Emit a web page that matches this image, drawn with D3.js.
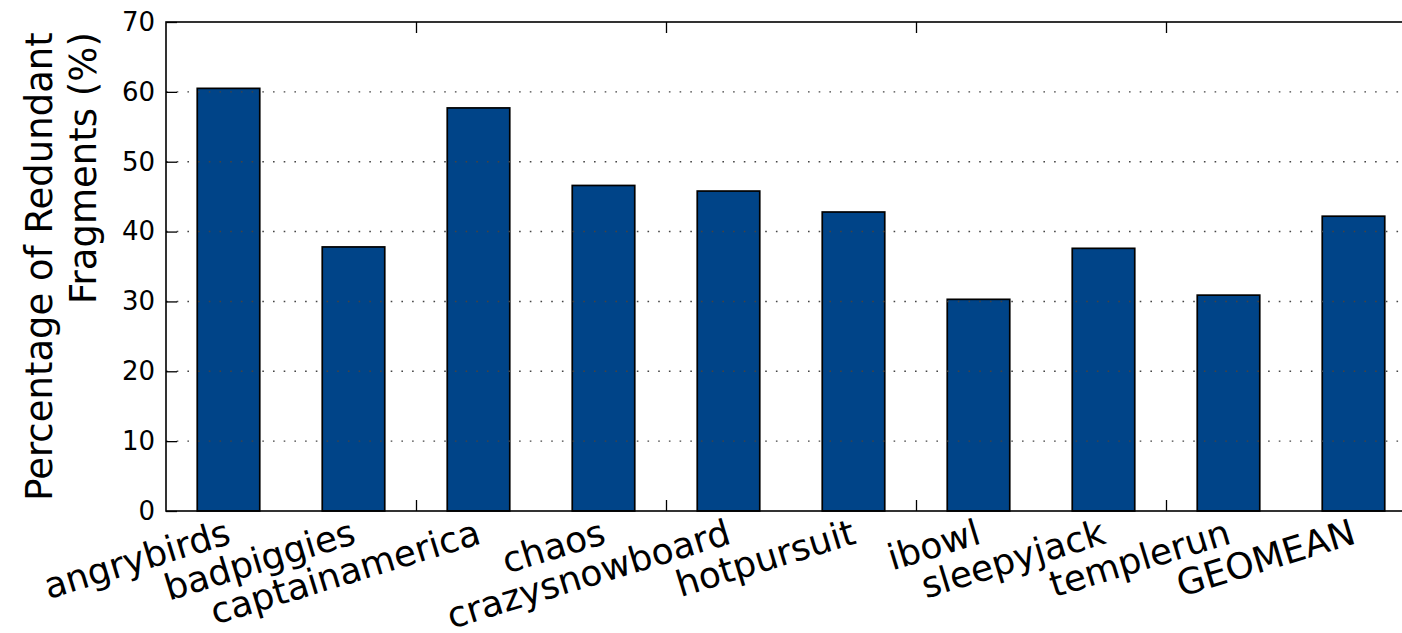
<!DOCTYPE html>
<html><head><meta charset="utf-8">
<script src="https://cdn.jsdelivr.net/npm/d3@7"></script>
<style>
html,body{margin:0;padding:0;background:#fff;}
svg{display:block;font-family:"DejaVu Sans",sans-serif;}
</style></head>
<body>
<svg id="chart" width="1402" height="633"></svg>
<script>
const categories = ["angrybirds","badpiggies","captainamerica","chaos","crazysnowboard","hotpursuit","ibowl","sleepyjack","templerun","GEOMEAN"];
const values = [60.5, 37.8, 57.7, 46.6, 45.8, 42.8, 30.3, 37.6, 30.9, 42.2];
const yTicks = [0,10,20,30,40,50,60,70];
const xMinorTicks = [2,4,6,8];
const yLabelLines = ["Percentage of Redundant","Fragments (%)"];

const svg = d3.select("#chart");
const L = 166, R = 1416, T = 22, B = 511;
const x = d3.scaleLinear().domain([0,10]).range([L,R]);
const y = d3.scaleLinear().domain([0,70]).range([B,T]);

// bars
svg.append("g").selectAll("rect").data(values).join("rect")
  .attr("x", (d,i)=>x(i+0.25))
  .attr("width", x(0.5)-x(0))
  .attr("y", d=>y(d))
  .attr("height", d=>y(0)-y(d))
  .attr("fill","#004488")
  .attr("stroke","#000")
  .attr("stroke-width",1.7);

// grid
svg.append("g").selectAll("line").data(yTicks.filter(t=>t>0&&t<70)).join("line")
  .attr("x1",L).attr("x2",R)
  .attr("y1",d=>y(d)).attr("y2",d=>y(d))
  .attr("stroke","#444").attr("stroke-width",1.4)
  .attr("stroke-dasharray","1.6,9.1");

// frame
svg.append("rect").attr("x",L).attr("y",T).attr("width",R-L).attr("height",B-T)
  .attr("fill","none").attr("stroke","#000").attr("stroke-width",1.6);

// y axis ticks (inward)
const yAxis = d3.axisLeft(y).tickValues(yTicks).tickSize(-11).tickPadding(11).tickFormat(d3.format("d"));
const gy = svg.append("g").attr("transform",`translate(${L},0)`).call(yAxis);
gy.select(".domain").remove();
gy.selectAll("line").attr("stroke","#000").attr("stroke-width",1.3);
gy.selectAll("text").attr("font-size",26).attr("fill","#000").attr("font-family","DejaVu Sans");

// x ticks top & bottom
const xb = d3.axisBottom(x).tickValues(xMinorTicks).tickSize(-11).tickFormat("");
const gxb = svg.append("g").attr("transform",`translate(0,${B})`).call(xb);
gxb.select(".domain").remove();
gxb.selectAll("line").attr("stroke","#000").attr("stroke-width",1.3);
const xt = d3.axisTop(x).tickValues(xMinorTicks).tickSize(-11).tickFormat("");
const gxt = svg.append("g").attr("transform",`translate(0,${T})`).call(xt);
gxt.select(".domain").remove();
gxt.selectAll("line").attr("stroke","#000").attr("stroke-width",1.3);

// category labels
svg.append("g").selectAll("text").data(categories).join("text")
  .attr("transform",(d,i)=>`translate(${x(i+0.5)+4},${B+32}) rotate(-17)`)
  .attr("text-anchor","end")
  .attr("font-size",36)
  .attr("fill","#000")
  .text(d=>d);

// y label
const yl = svg.append("g");
const t1 = yl.append("text").attr("font-size",37).attr("fill","#000").text(yLabelLines[0]);
const len1 = t1.node().getComputedTextLength();
const endY = (T+B)/2 - len1/2;
t1.attr("text-anchor","end").attr("transform",`translate(52,${endY}) rotate(-90)`);
yl.append("text").attr("font-size",37).attr("fill","#000").text(yLabelLines[1])
  .attr("text-anchor","end").attr("transform",`translate(96,${endY}) rotate(-90)`);
</script>
</body></html>
